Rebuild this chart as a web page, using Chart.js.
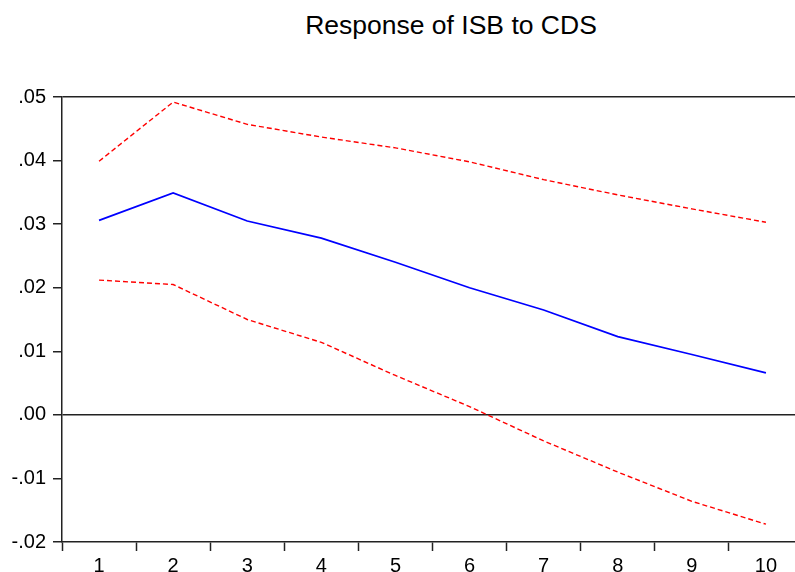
<!DOCTYPE html>
<html>
<head>
<meta charset="utf-8">
<script src="https://cdn.jsdelivr.net/npm/chart.js@4.4.0/dist/chart.umd.min.js"></script>
<style>
  html, body { margin: 0; padding: 0; background: #fff; overflow: hidden; }
  #wrap { position: relative; width: 795px; height: 572px; overflow: hidden; }
  #title {
    position: absolute; left: 0; top: 12px; width: 902px;
    text-align: center; font: 26.5px "Liberation Sans", Arial, sans-serif;
    line-height: 26px; color: #000;
  }
  #irf { position: absolute; left: 0; top: 0; }
</style>
</head>
<body>
<div id="wrap">
  <div id="title">Response of ISB to CDS</div>
  <canvas id="irf" width="803" height="572"></canvas>
</div>
<script>
// periods after the shock
const periods = ["1", "2", "3", "4", "5", "6", "7", "8", "9", "10"];

// impulse response and +/- 2 S.E. bands
const response = [0.0306, 0.0349, 0.0305, 0.0278, 0.0240, 0.0200, 0.0165, 0.0123, 0.0095, 0.0066];
const upperBand = [0.0399, 0.0492, 0.0457, 0.0437, 0.0420, 0.0398, 0.0370, 0.0346, 0.0324, 0.0303];
const lowerBand = [0.0212, 0.0205, 0.0150, 0.0114, 0.0062, 0.0013, -0.0041, -0.0090, -0.0136, -0.0172];

const yTicks = [-0.02, -0.01, 0.0, 0.01, 0.02, 0.03, 0.04, 0.05];

const fmtTick = (v) => {
  let s = Math.abs(v).toFixed(2).replace(/^0/, "");
  return v < -1e-9 ? "-" + s : s;
};

const axisColor = "#222";
const tickFont = { family: "'Liberation Sans', Arial, sans-serif", size: 20 };

const chartIrf = new Chart(document.getElementById("irf"), {
  type: "line",
  data: {
    labels: periods,
    datasets: [
      {
        label: "Response",
        data: response,
        borderColor: "#0000ff",
        borderWidth: 1.7,
        pointRadius: 0,
        tension: 0,
      },
      {
        label: "Upper",
        data: upperBand,
        borderColor: "#ff0000",
        borderWidth: 1.4,
        borderDash: [5, 3],
        pointRadius: 0,
        tension: 0,
      },
      {
        label: "Lower",
        data: lowerBand,
        borderColor: "#ff0000",
        borderWidth: 1.4,
        borderDash: [5, 3],
        pointRadius: 0,
        tension: 0,
      },
    ],
  },
  options: {
    responsive: false,
    animation: false,
    layout: { padding: { top: 97, left: 0, right: 0, bottom: 0 } },
    plugins: {
      legend: { display: false },
      title: { display: false },
      tooltip: { enabled: false },
    },
    scales: {
      x: {
        type: "category",
        offset: true,
        grid: {
          offset: true,
          drawOnChartArea: false,
          tickLength: 9,
          tickColor: axisColor,
          tickWidth: 1.5,
        },
        border: { display: true, color: axisColor, width: 1.5 },
        ticks: { color: "#000", font: tickFont, padding: 3, maxRotation: 0 },
        afterFit: (scale) => { scale.height = 30; },
      },
      y: {
        min: -0.02,
        max: 0.05,
        afterBuildTicks: (scale) => {
          scale.ticks = yTicks.map((v) => ({ value: v }));
        },
        grid: {
          color: (ctx) => {
            let v = ctx.tick ? ctx.tick.value : null;
            if (v === null) return "transparent";
            return Math.abs(v) < 1e-9 || Math.abs(v - 0.05) < 1e-9 ? axisColor : "transparent";
          },
          lineWidth: 1.5,
          tickLength: 9,
          tickColor: axisColor,
          tickWidth: 1.5,
        },
        border: { display: true, color: axisColor, width: 1.5 },
        ticks: {
          color: "#000",
          font: tickFont,
          padding: 7,
          callback: (v) => fmtTick(v),
        },
        afterFit: (scale) => { scale.width = 62; },
      },
    },
  },
});
</script>
</body>
</html>
